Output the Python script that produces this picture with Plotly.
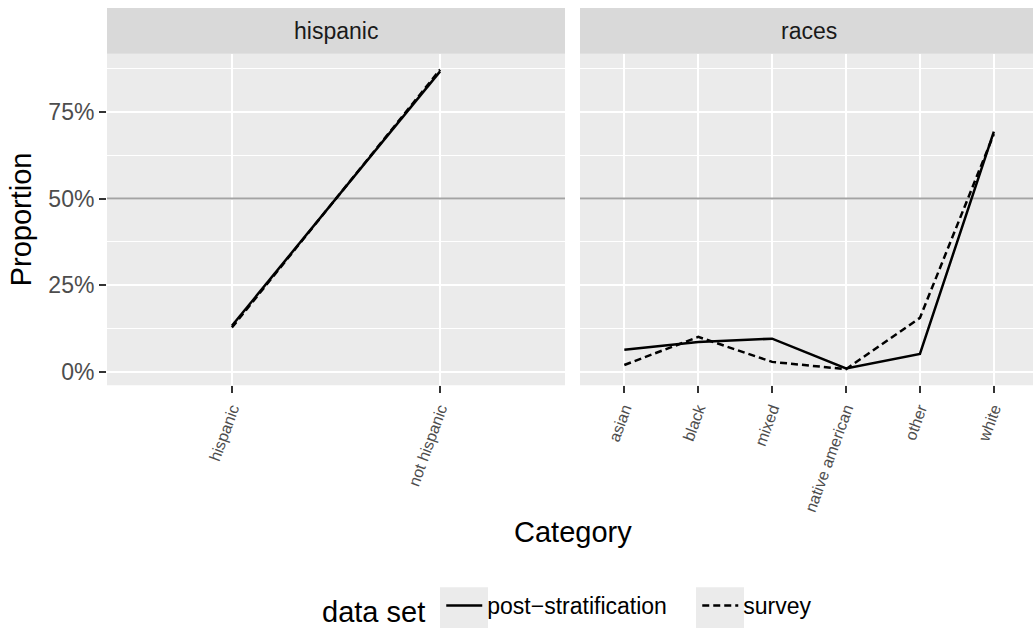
import plotly.graph_objects as go

# ---- data ----
hisp_categories = ["hispanic", "not hispanic"]
hisp_post = [0.133, 0.867]
hisp_survey = [0.128, 0.872]

race_categories = ["asian", "black", "mixed", "native american", "other", "white"]
race_post = [0.064, 0.086, 0.096, 0.010, 0.052, 0.693]
race_survey = [0.020, 0.101, 0.029, 0.008, 0.156, 0.686]

facet_labels = ["hispanic", "races"]
series_names = ["post\u2212stratification", "survey"]
y_tickvals = [0, 0.25, 0.5, 0.75]
y_minorvals = [0.125, 0.375, 0.625, 0.875]
ref_line = 0.5

W, H = 1033, 632
FONT = "Liberation Sans, Arial, Helvetica, sans-serif"

def px_x(p):
    return p / W

def px_y(p):
    return 1 - p / H

left_dom = [px_x(107), px_x(565)]
right_dom = [px_x(580), 1.0]
y_dom = [px_y(387.7), px_y(54)]
left_xrange = [-0.6, 1.6]
right_xrange = [-0.6, 5.53]
yrange = [-0.0384, 0.918]

fig = go.Figure()

line_post = dict(color="black", width=2.5)
line_survey = dict(color="black", width=2.5, dash="7px,4px")

fig.add_trace(go.Scatter(x=hisp_categories, y=hisp_post, mode="lines", line=line_post,
                         name=series_names[0], legendgroup="p", showlegend=False,
                         xaxis="x", yaxis="y"))
fig.add_trace(go.Scatter(x=hisp_categories, y=hisp_survey, mode="lines", line=line_survey,
                         name=series_names[1], legendgroup="s", showlegend=False,
                         xaxis="x", yaxis="y"))
fig.add_trace(go.Scatter(x=race_categories, y=race_post, mode="lines", line=line_post,
                         name=series_names[0], legendgroup="p", showlegend=True,
                         xaxis="x2", yaxis="y2"))
fig.add_trace(go.Scatter(x=race_categories, y=race_survey, mode="lines", line=line_survey,
                         name=series_names[1], legendgroup="s", showlegend=True,
                         xaxis="x2", yaxis="y2"))

xtick_font = dict(family=FONT, size=16, color="#4D4D4D")
common_x = dict(type="category", showgrid=True, gridcolor="white", gridwidth=1.8,
                zeroline=False, showline=False, ticks="outside", ticklen=7, tickwidth=2,
                tickcolor="#333333", tickangle=-70, tickfont=xtick_font)

fig.update_layout(
    width=W, height=H,
    margin=dict(l=0, r=0, t=0, b=0),
    paper_bgcolor="white",
    plot_bgcolor="#EBEBEB",
    font=dict(family=FONT, color="black"),
    xaxis=dict(domain=left_dom, anchor="y", range=left_xrange,
               categoryorder="array", categoryarray=hisp_categories, **common_x),
    xaxis2=dict(domain=right_dom, anchor="y2", range=right_xrange,
                categoryorder="array", categoryarray=race_categories, **common_x),
    yaxis=dict(domain=y_dom, anchor="x", range=yrange, tickvals=y_tickvals,
               tickformat=".0%", showgrid=True, gridcolor="white", gridwidth=1.8,
               zeroline=False, showline=False, ticks="outside", ticklen=7, tickwidth=2,
               tickcolor="#333333", tickfont=dict(family=FONT, size=23, color="#4D4D4D"),
               minor=dict(tickvals=y_minorvals, showgrid=True, gridcolor="white",
                          gridwidth=0.9, ticks=""),
               title=dict(text="Proportion", font=dict(family=FONT, size=29, color="black"),
                          standoff=8)),
    yaxis2=dict(domain=y_dom, anchor="x2", range=yrange, tickvals=y_tickvals,
                showticklabels=False, showgrid=True, gridcolor="white", gridwidth=1.8,
                zeroline=False, showline=False, ticks="",
                minor=dict(tickvals=y_minorvals, showgrid=True, gridcolor="white",
                           gridwidth=0.9, ticks="")),
    legend=dict(orientation="h", x=px_x(320), xanchor="left", y=px_y(612), yanchor="middle",
                bgcolor="rgba(0,0,0,0)", itemwidth=36,
                entrywidth=205, entrywidthmode="pixels",
                font=dict(family=FONT, size=23, color="black"),
                title=dict(text="data set ", side="left",
                           font=dict(family=FONT, size=29, color="black"))),
    showlegend=True,
)

# facet strips (paper-referenced, drawn first)
for dom in (left_dom, right_dom):
    fig.add_shape(type="rect", xref="paper", yref="paper", x0=dom[0], x1=dom[1],
                  y0=px_y(54), y1=px_y(8), fillcolor="#D9D9D9", line=dict(width=0),
                  layer="below")

# legend key backgrounds
for k0, k1 in ((440, 488), (696, 744)):
    fig.add_shape(type="rect", xref="paper", yref="paper", x0=px_x(k0), x1=px_x(k1),
                  y0=px_y(632), y1=px_y(591), fillcolor="#EBEBEB", line=dict(width=0),
                  layer="below")

# 50% reference line in both panels (between gridlines and data)
for xr, yr, rng in (("x", "y", left_xrange), ("x2", "y2", right_xrange)):
    fig.add_shape(type="line", xref=xr, yref=yr, x0=rng[0], x1=rng[1],
                  y0=ref_line, y1=ref_line,
                  line=dict(color="#A3A3A3", width=2), layer="between")

# strip labels
strip_centers = [(left_dom[0] + left_dom[1]) / 2, (right_dom[0] + px_x(1038)) / 2]
for cx, label in zip(strip_centers, facet_labels):
    fig.add_annotation(xref="paper", yref="paper", x=cx, y=px_y(31), text=label,
                       showarrow=False, xanchor="center", yanchor="middle",
                       font=dict(family=FONT, size=23, color="#1A1A1A"))

# shared x-axis title
fig.add_annotation(xref="paper", yref="paper", x=px_x(572.5), y=px_y(535), text="Category",
                   showarrow=False, xanchor="center", yanchor="middle",
                   font=dict(family=FONT, size=29, color="black"))

fig.write_html("out.html")
